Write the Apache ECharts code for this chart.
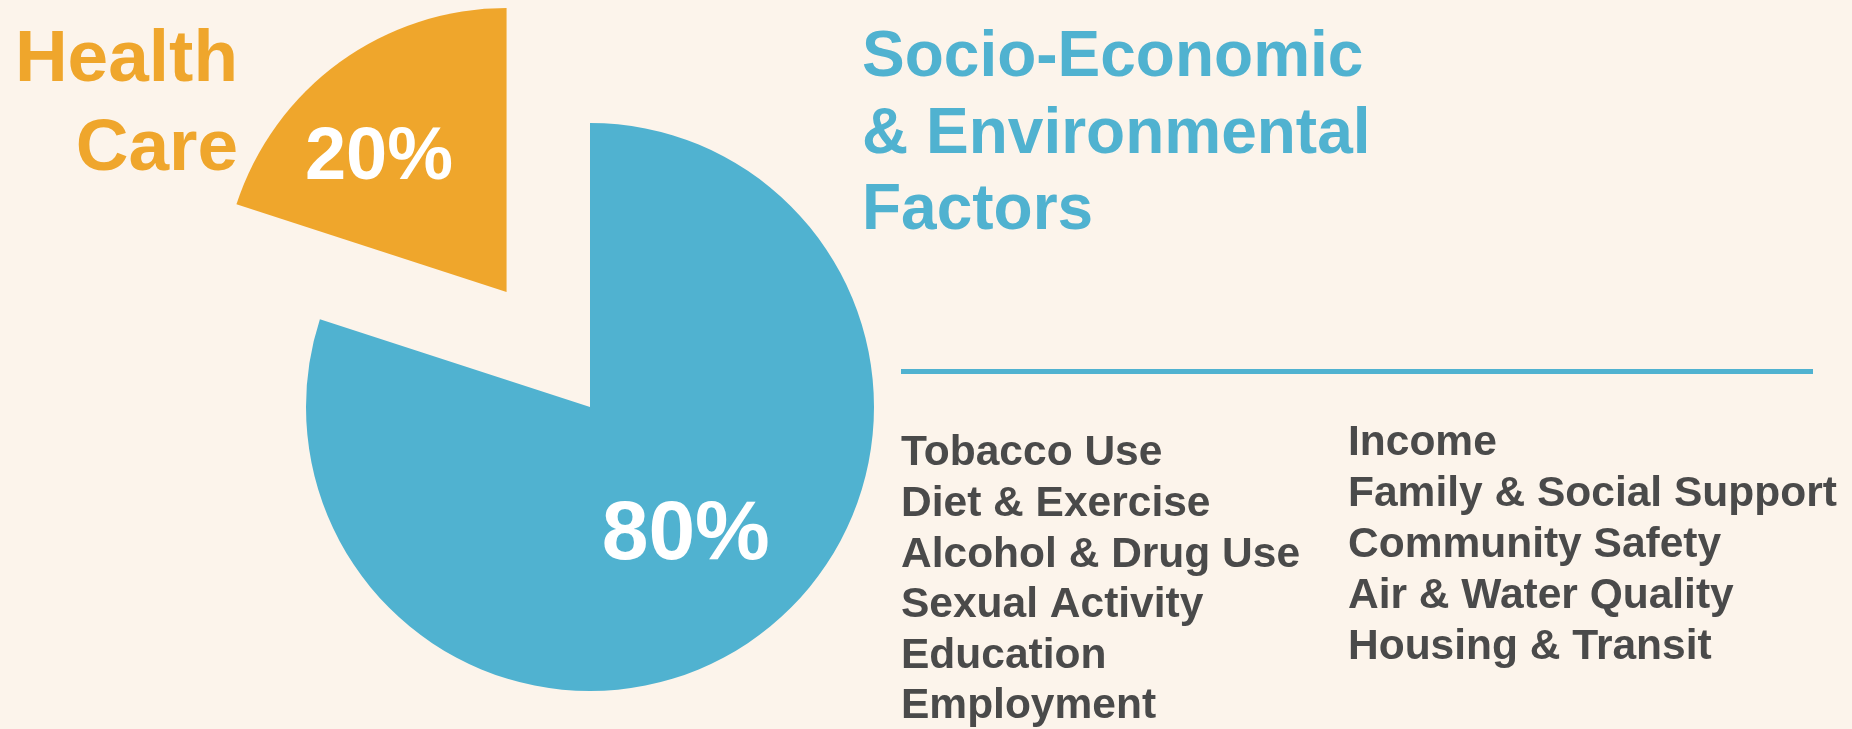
<!DOCTYPE html>
<html>
<head>
	<meta charset="UTF-8">
	<title>health factors</title>
	<style>
		html, body { margin: 0; padding: 0; background: #fcf4eb; }
		#mychart { width: 1852px; height: 729px; }
	</style>
</head>
<body>
	<div id="mychart"></div>
<script type="text/javascript" src="https://cdn.jsdelivr.net/npm/echarts@6/dist/echarts.min.js"></script>
<script type="text/javascript">
	// 饼图数据
	var sliceNames = ['Socio-Economic & Environmental Factors', 'Health Care'];
	var sliceValues = [80, 20];
	var titleLeft = ['Health', 'Care'];
	var titleRight = ['Socio-Economic', '& Environmental', 'Factors'];
	var listLeft = ['Tobacco Use', 'Diet & Exercise', 'Alcohol & Drug Use', 'Sexual Activity', 'Education', 'Employment'];
	var listRight = ['Income', 'Family & Social Support', 'Community Safety', 'Air & Water Quality', 'Housing & Transit'];

	var blue = '#50b2d0', orange = '#efa62c', grey = '#4a4a4a';
	var font = '"Liberation Sans", Arial, sans-serif';

	var myChart = echarts.init(document.getElementById('mychart'));

	// baseline -> middle
	function textItem(str, x, baseline, size, color, align){
		return {
			type: 'text',
			x: x,
			y: baseline - size * 0.29,
			style: {
				text: str,
				fill: color,
				font: 'bold ' + size + 'px ' + font,
				textAlign: align || 'left',
				textVerticalAlign: 'middle'
			}
		};
	}

	var graphics = [];
	titleLeft.forEach(function(t, i){
		graphics.push(textItem(t, 238, 82 + i * 89, 73, orange, 'right'));
	});
	titleRight.forEach(function(t, i){
		graphics.push(textItem(t, 862, 77 + i * 76.5, 64, blue));
	});
	listLeft.forEach(function(t, i){
		graphics.push(textItem(t, 901, 466 + i * 50.6, 42.5, grey));
	});
	listRight.forEach(function(t, i){
		graphics.push(textItem(t, 1348, 456 + i * 51, 42.5, grey));
	});
	graphics.push({
		type: 'line',
		shape: { x1: 901, y1: 371.5, x2: 1813, y2: 371.5 },
		style: { stroke: blue, lineWidth: 5 }
	});

	var colors = [blue, orange];
	var labelPad = [[40, 0, 0, 21], [0, 0, 44, 15]];
	var labelSize = [84, 74];
	var labelLH = [24, 16];   // 空行把文字往下推

	var option = {
		backgroundColor: '#fcf4eb',
		animation: false,
		graphic: graphics,
		series: [
			{
				type: 'pie',
				center: [590, 407],
				radius: 284,
				startAngle: 90,
				clockwise: true,
				selectedMode: 'single',
				selectedOffset: 142,
				silent: true,
				emphasis: { disabled: true },
				labelLine: { show: false },
				data: sliceNames.map(function(n, i){
					var lbl = {
						show: true,
						position: 'inside',
						formatter: '\n{c}%',
						color: '#fff',
						fontFamily: font,
						fontWeight: 'bold',
						fontSize: labelSize[i],
						lineHeight: labelLH[i],
						padding: labelPad[i]
					};
					return {
						name: n,
						value: sliceValues[i],
						selected: i === 1,
						itemStyle: { color: colors[i], borderWidth: 0 },
						label: lbl,
						select: { itemStyle: { color: colors[i], borderWidth: 0 }, label: lbl }
					};
				})
			}
		]
	};
	myChart.setOption(option);
</script>
</body>
</html>
